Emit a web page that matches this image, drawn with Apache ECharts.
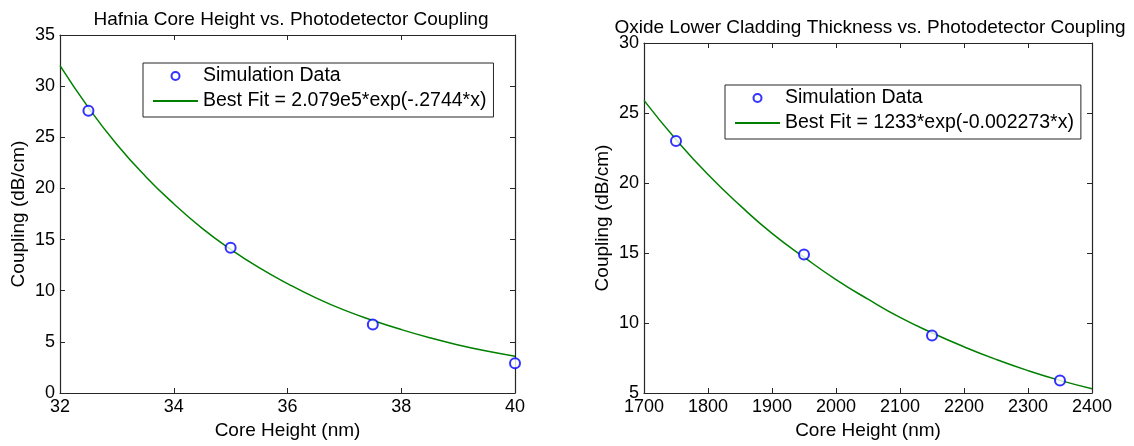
<!DOCTYPE html>
<html>
<head>
<meta charset="utf-8">
<script src="https://cdn.jsdelivr.net/npm/echarts@6/dist/echarts.min.js"></script>
<style>
  html, body { margin: 0; padding: 0; background: #fff; }
  #chart { width: 1134px; height: 446px; }
</style>
</head>
<body>
<div id="chart"></div>
<script>
// left plot: hafnia core height
var hafniaX = [32.5, 35, 37.5, 40];
var hafniaY = [27.6, 14.2, 6.7, 2.9];
// fit curve every half nm
var hafniaFitX = [32, 32.5, 33, 33.5, 34, 34.5, 35, 35.5, 36, 36.5, 37, 37.5, 38, 38.5, 39, 39.5, 40];
var hafniaFitY = [32.0, 27.9, 24.3, 21.2, 18.5, 16.1, 14.05, 12.25, 10.7, 9.3, 8.1, 7.1, 6.2, 5.4, 4.7, 4.1, 3.6];
var hafniaFitName = 'Best Fit = 2.079e5*exp(-.2744*x)';

// right plot: oxide lower cladding
var oxideX = [1750, 1950, 2150, 2350];
var oxideY = [23.0, 14.9, 9.1, 5.9];
var oxideFitX = [1700, 1750, 1800, 1850, 1900, 1950, 2000, 2050, 2100, 2150, 2200, 2250, 2300, 2350, 2400];
var oxideFitY = [25.9, 23.1, 20.6, 18.4, 16.4, 14.7, 13.1, 11.7, 10.4, 9.3, 8.3, 7.4, 6.6, 5.9, 5.3];
var oxideFitName = 'Best Fit = 1233*exp(-0.002273*x)';

var titles = ['Hafnia Core Height vs. Photodetector Coupling',
              'Oxide Lower Cladding Thickness vs. Photodetector Coupling'];

var font = 'Liberation Sans, Arial, sans-serif';
var ink = '#262626';

function pairs(xs, ys) {
  return xs.map(function (x, i) { return [x, ys[i]]; });
}

function mainX(grid, min, max, step) {
  return {
    type: 'value', gridIndex: grid, min: min, max: max, interval: step,
    name: 'Core Height (nm)', nameLocation: 'middle', nameGap: 27,
    nameTextStyle: { fontFamily: font, fontSize: 19, color: '#000' },
    axisLine: { lineStyle: { color: ink, width: 1.2 } },
    axisTick: { inside: true, length: 5, lineStyle: { color: ink } },
    axisLabel: { fontFamily: font, fontSize: 18, color: '#000', margin: 5,
                 formatter: function (v) { return String(v); } },
    splitLine: { show: false }
  };
}
function mainY(grid, min, max, step) {
  return {
    type: 'value', gridIndex: grid, min: min, max: max, interval: step,
    name: 'Coupling (dB/cm)', nameLocation: 'middle', nameGap: 32,
    nameTextStyle: { fontFamily: font, fontSize: 19, color: '#000' },
    axisLine: { lineStyle: { color: ink, width: 1.2 } },
    axisTick: { inside: true, length: 5, lineStyle: { color: ink } },
    axisLabel: { fontFamily: font, fontSize: 18, color: '#000', margin: 5 },
    splitLine: { show: false }
  };
}
// mirrored top / right axes so the box has ticks on all sides
function mirror(base, pos) {
  return {
    type: 'value', gridIndex: base.gridIndex, min: base.min, max: base.max,
    interval: base.interval, position: pos,
    axisLine: { show: true, onZero: false, lineStyle: { color: ink, width: 1.2 } },
    axisTick: { inside: true, length: 5, lineStyle: { color: ink } },
    axisLabel: { show: false }, splitLine: { show: false }
  };
}

var x0 = mainX(0, 32, 40, 2), y0 = mainY(0, 0, 35, 5);
var x1 = mainX(1, 1700, 2400, 100), y1 = mainY(1, 5, 30, 5);

function dots(name, xi, yi, data) {
  return {
    name: name, type: 'scatter', xAxisIndex: xi, yAxisIndex: yi,
    data: data, symbol: 'emptyCircle', symbolSize: 10,
    itemStyle: { color: '#0000ff', borderColor: '#0000ff', borderWidth: 1.1 },
    z: 3
  };
}
function fit(name, xi, yi, data) {
  return {
    name: name, type: 'line', xAxisIndex: xi, yAxisIndex: yi,
    data: data, smooth: true, symbol: 'none',
    lineStyle: { color: '#008000', width: 1.5 },
    itemStyle: { color: '#008000' }, z: 2
  };
}

function legendBox(left, top, dotName, fitName) {
  return {
    data: [
      { name: dotName },
      // hide the dot that echarts puts on a line icon
      { name: fitName, itemStyle: { color: 'rgba(0,0,0,0)', borderWidth: 0 } }
    ],
    left: left, top: top, orient: 'vertical',
    borderColor: ink, borderWidth: 1, backgroundColor: '#fff',
    padding: [3, 7, 6, 9], itemGap: 5, itemWidth: 45, itemHeight: 8,
    selectedMode: false,
    textStyle: { fontFamily: font, fontSize: 19.5, color: '#000' }
  };
}

var chart = echarts.init(document.getElementById('chart'), null, { renderer: 'canvas' });
chart.setOption({
  animation: false,
  backgroundColor: '#fff',
  title: [
    { text: titles[0], left: 286, textAlign: 'center', top: 5,
      textStyle: { fontFamily: font, fontSize: 19, fontWeight: 'normal', color: '#000' } },
    { text: titles[1], left: 865, textAlign: 'center', top: 13,
      textStyle: { fontFamily: font, fontSize: 19, fontWeight: 'normal', color: '#000' } }
  ],
  legend: [
    legendBox(143, 63, 'Simulation Data', hafniaFitName),
    legendBox(725, 85, 'Simulation Data ', oxideFitName)
  ],
  grid: [
    { left: 60, top: 35, width: 455, height: 358 },
    { left: 644, top: 43, width: 448, height: 350 }
  ],
  xAxis: [x0, x1, mirror(x0, 'top'), mirror(x1, 'top')],
  yAxis: [y0, y1, mirror(y0, 'right'), mirror(y1, 'right')],
  series: [
    fit(hafniaFitName, 0, 0, pairs(hafniaFitX, hafniaFitY)),
    dots('Simulation Data', 0, 0, pairs(hafniaX, hafniaY)),
    fit(oxideFitName, 1, 1, pairs(oxideFitX, oxideFitY)),
    dots('Simulation Data ', 1, 1, pairs(oxideX, oxideY))
  ]
});
</script>
</body>
</html>
